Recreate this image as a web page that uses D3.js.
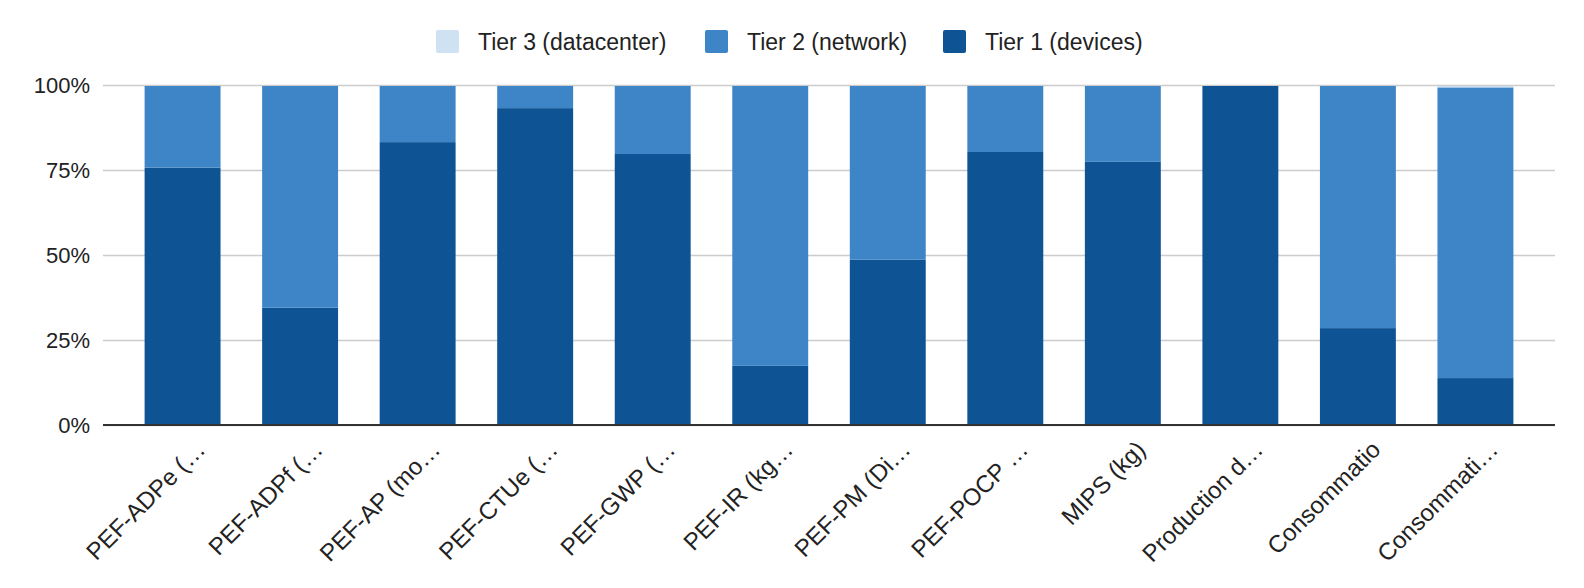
<!DOCTYPE html>
<html>
<head>
<meta charset="utf-8">
<script src="https://cdn.jsdelivr.net/npm/d3@7"></script>
<style>
  body { margin: 0; background: #fff; }
  svg text { font-family: "Liberation Sans", Arial, sans-serif; fill: #222; }
</style>
</head>
<body>
<svg id="chart" width="1584" height="588"></svg>
<script>
const categories = ["PEF-ADPe (…", "PEF-ADPf (…", "PEF-AP (mo…", "PEF-CTUe (…", "PEF-GWP (…", "PEF-IR (kg…",
  "PEF-PM (Di…", "PEF-POCP …", "MIPS (kg)", "Production d…", "Consommatio", "Consommati…"];
const tier1 = [75.7, 34.5, 83.2, 93.2, 79.7, 17.4, 48.6, 80.3, 77.4, 100, 28.5, 13.8];
const tier2 = [24.3, 65.5, 16.8, 6.8, 20.3, 82.6, 51.4, 19.7, 22.6, 0, 71.5, 85.5];
const tier3 = [0, 0, 0, 0, 0, 0, 0, 0, 0, 0, 0, 0.7];
const yTicks = [0, 25, 50, 75, 100];
const seriesNames = ["Tier 1 (devices)", "Tier 2 (network)", "Tier 3 (datacenter)"];
const colors = ["#0e5394", "#3d85c6", "#cfe2f3"];

const svg = d3.select("#chart");
const margin = { top: 85, right: 29, bottom: 163, left: 103 };
const width = 1584 - margin.left - margin.right;
const height = 588 - margin.top - margin.bottom;

const rows = categories.map((c, i) => ({ cat: c, t1: tier1[i], t2: tier2[i], t3: tier3[i] }));
const stacked = d3.stack().keys(["t1", "t2", "t3"])(rows);

const x = d3.scaleBand().domain(categories).range([0, width]).paddingInner(0.354).paddingOuter(0.354);
const y = d3.scaleLinear().domain([0, 100]).range([height, 0]);

const g = svg.append("g").attr("transform", `translate(${margin.left},${margin.top})`);

// gridlines + y labels
const yAxis = g.append("g")
  .call(d3.axisLeft(y).tickValues(yTicks).tickSize(-width).tickFormat(d => d + "%"));
yAxis.select(".domain").remove();
yAxis.selectAll(".tick line").attr("stroke", "#cccccc").attr("stroke-width", 1.5);
yAxis.selectAll(".tick text").attr("x", -13).attr("font-size", 22).attr("fill", "#222");

// bars (sit 1px under the top gridline like the original)
g.selectAll("g.series")
  .data(stacked)
  .join("g")
  .attr("class", "series")
  .attr("fill", (d, i) => colors[i])
  .selectAll("rect")
  .data(d => d)
  .join("rect")
  .attr("x", d => x(d.data.cat))
  .attr("width", x.bandwidth())
  .attr("y", d => y(d[1]) + (d[1] >= 100 ? 1 : 0))
  .attr("height", d => Math.max(0, y(d[0]) - y(d[1]) - (d[1] >= 100 ? 1 : 0)));

// baseline
g.append("line")
  .attr("x1", 0).attr("x2", width)
  .attr("y1", y(0)).attr("y2", y(0))
  .attr("stroke", "#333").attr("stroke-width", 2);

// x labels, slanted 45deg
const xAxis = g.append("g")
  .attr("transform", `translate(0,${height})`)
  .call(d3.axisBottom(x).tickSize(0));
xAxis.select(".domain").remove();
xAxis.selectAll(".tick text")
  .attr("font-size", 24)
  .attr("fill", "#222")
  .attr("text-anchor", "end")
  .attr("dy", 0)
  .attr("transform", "translate(22,24) rotate(-45)");

// legend (Tier 3, Tier 2, Tier 1)
const legendItems = [
  { name: seriesNames[2], color: colors[2], x: 436 },
  { name: seriesNames[1], color: colors[1], x: 705 },
  { name: seriesNames[0], color: colors[0], x: 943 }
];
const legend = svg.append("g");
const li = legend.selectAll("g").data(legendItems).join("g")
  .attr("transform", d => `translate(${d.x},30)`);
li.append("rect").attr("width", 23).attr("height", 23).attr("rx", 2).attr("fill", d => d.color);
li.append("text").attr("x", 42).attr("y", 12).attr("dy", "0.35em")
  .attr("font-size", 23).text(d => d.name);
</script>
</body>
</html>
